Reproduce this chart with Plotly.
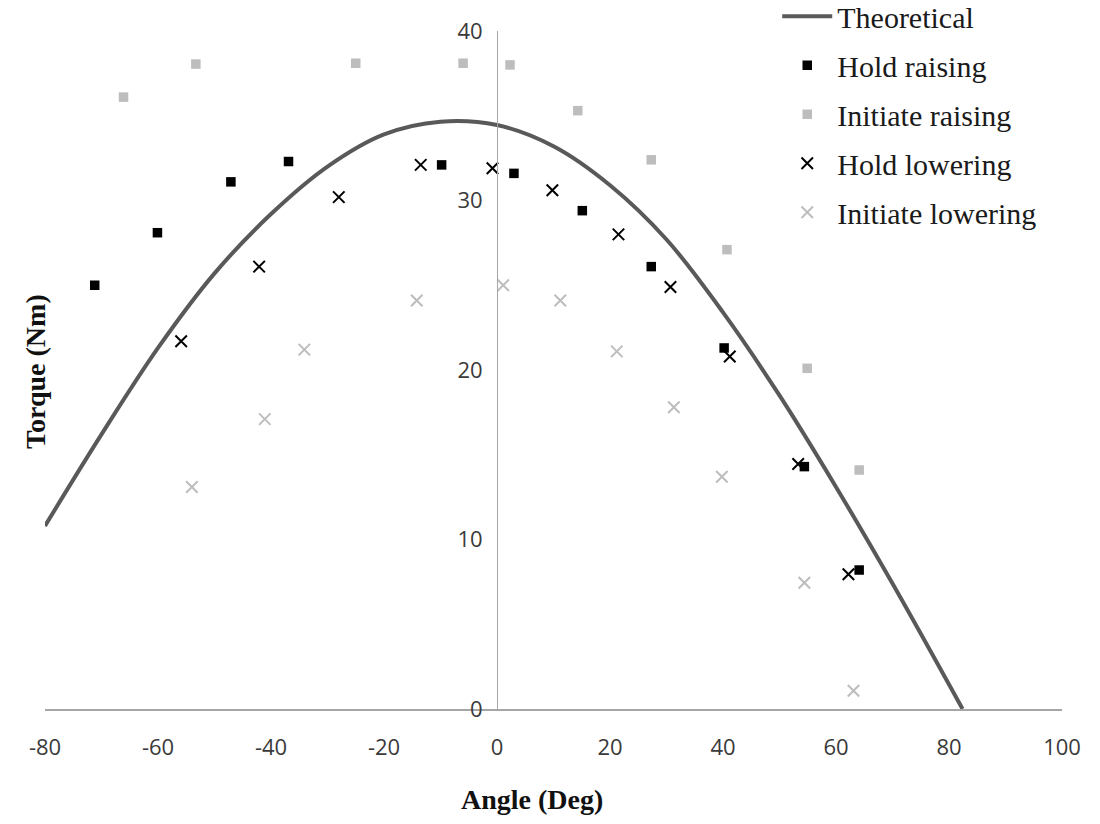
import plotly.graph_objects as go

# Theoretical torque curve (angle in degrees, torque in Nm)
theory_angle = [-80, -70, -60, -50, -40, -30, -20, -10, 0, 10, 20, 30, 40, 50, 60, 70, 82.4]
theory_torque = [10.8, 16.2, 21.3, 25.7, 29.2, 32.0, 33.9, 34.65, 34.45, 33.2, 30.9, 27.7, 23.4, 18.5, 13.1, 7.4, 0.0]

# Measured torque
hold_raise_angle = [-71.2, -60.1, -47.1, -36.9, -9.8, 3.0, 15.1, 27.3, 40.2, 54.4, 64.1]
hold_raise_torque = [25.0, 28.1, 31.1, 32.3, 32.1, 31.6, 29.4, 26.1, 21.3, 14.3, 8.2]

init_raise_angle = [-66.1, -53.3, -25.0, -6.0, 2.3, 14.3, 27.3, 40.7, 54.9, 64.1]
init_raise_torque = [36.1, 38.05, 38.1, 38.1, 38.0, 35.3, 32.4, 27.1, 20.1, 14.1]

hold_lower_angle = [-55.9, -42.1, -28.0, -13.5, -0.8, 9.8, 21.5, 30.7, 41.2, 53.3, 62.2]
hold_lower_torque = [21.7, 26.1, 30.2, 32.1, 31.9, 30.6, 28.0, 24.9, 20.8, 14.45, 7.95]

init_lower_angle = [-54.0, -41.1, -34.1, -14.2, 1.1, 11.2, 21.2, 31.3, 39.8, 54.4, 63.1]
init_lower_torque = [13.1, 17.1, 21.2, 24.1, 25.0, 24.1, 21.1, 17.8, 13.7, 7.45, 1.08]

x_ticks = [-80, -60, -40, -20, 0, 20, 40, 60, 80, 100]
y_ticks = [0, 10, 20, 30, 40]

CURVE = "#595959"
DARK = "#000000"
LIGHT = "#bdbdbd"
AXIS = "#a6a6a6"
TICK_FONT = dict(family="Open Sans", size=22, color="#3a3a3a")
SERIF = "Liberation Serif"

fig = go.Figure()

fig.add_trace(go.Scatter(
    x=theory_angle, y=theory_torque, mode="lines", name="Theoretical",
    line=dict(color=CURVE, width=4, shape="spline", smoothing=1.0),
    legendgroup="a",
))
fig.add_trace(go.Scatter(
    x=hold_raise_angle, y=hold_raise_torque, mode="markers", name="Hold raising",
    marker=dict(symbol="square", size=9.5, color=DARK),
    legendgroup="b",
))
fig.add_trace(go.Scatter(
    x=init_raise_angle, y=init_raise_torque, mode="markers", name="Initiate raising",
    marker=dict(symbol="square", size=9.5, color=LIGHT),
    legendgroup="c",
))
fig.add_trace(go.Scatter(
    x=hold_lower_angle, y=hold_lower_torque, mode="markers", name="Hold lowering",
    marker=dict(symbol="x-thin", size=11.5, line=dict(color=DARK, width=2)),
    legendgroup="d",
))
fig.add_trace(go.Scatter(
    x=init_lower_angle, y=init_lower_torque, mode="markers", name="Initiate lowering",
    marker=dict(symbol="x-thin", size=11.5, line=dict(color=LIGHT, width=2)),
    legendgroup="e",
))

fig.update_layout(
    width=1100, height=824,
    margin=dict(l=45, r=38, t=31, b=115, autoexpand=False),
    paper_bgcolor="white", plot_bgcolor="white",
    showlegend=True,
    legend=dict(
        x=0.72, y=1.06, xanchor="left", yanchor="top",
        font=dict(family=SERIF, size=30, color="#1a1a1a"),
        itemwidth=50, tracegroupgap=7, bgcolor="rgba(0,0,0,0)",
        traceorder="grouped",
    ),
    xaxis=dict(
        range=[-80, 100], tickvals=x_ticks, ticktext=[str(v) for v in x_ticks],
        showgrid=False, zeroline=False, showline=True, linecolor=AXIS, linewidth=2,
        ticks="", tickfont=TICK_FONT, ticklabelstandoff=18,
    ),
    yaxis=dict(
        range=[0, 40], tickvals=y_ticks, ticktext=[str(v) for v in y_ticks],
        showgrid=False, zeroline=False, showline=True, linecolor=AXIS, linewidth=1,
        ticks="", tickfont=TICK_FONT, anchor="free", position=80 / 180, side="left",
        ticklabelstandoff=10,
    ),
    annotations=[
        dict(text="<b>Angle (Deg)</b>", xref="paper", yref="paper", x=0.479, y=-0.134,
             xanchor="center", yanchor="middle", showarrow=False,
             font=dict(family=SERIF, size=28, color="#111111")),
        dict(text="<b>Torque (Nm)</b>", xref="paper", yref="paper", x=-0.0098, y=0.497,
             xanchor="center", yanchor="middle", showarrow=False, textangle=-90,
             font=dict(family=SERIF, size=28, color="#111111")),
    ],
)

fig.write_html("out.html")
